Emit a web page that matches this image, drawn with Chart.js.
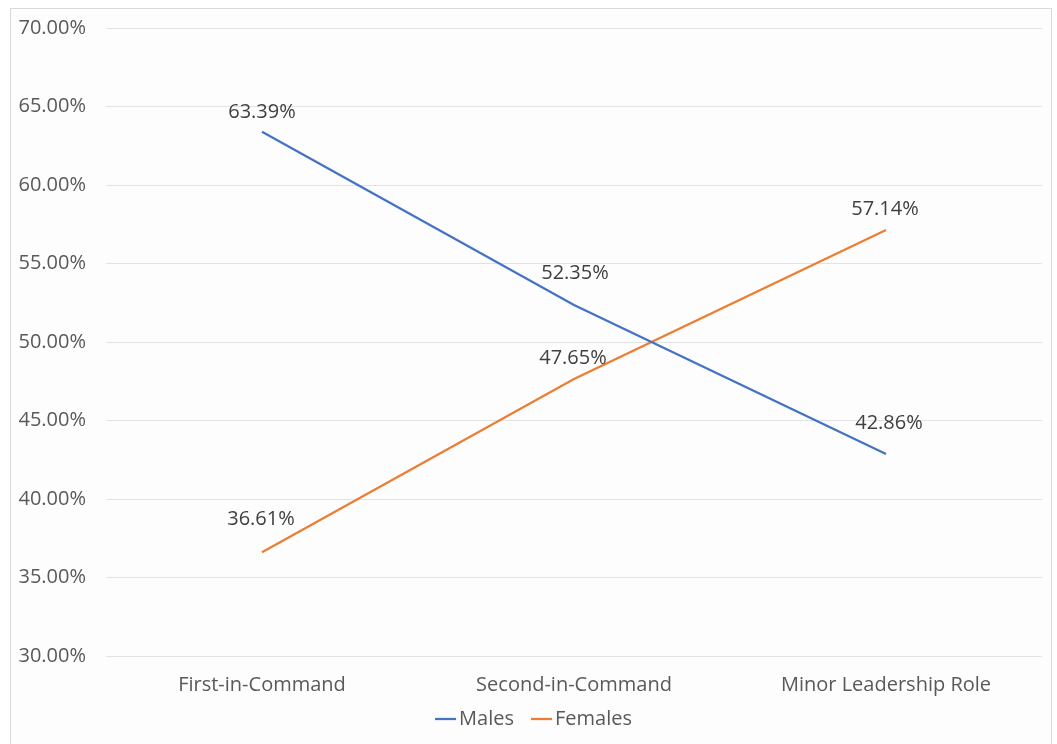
<!DOCTYPE html>
<html>
<head>
<meta charset="utf-8">
<script src="https://cdn.jsdelivr.net/npm/chart.js@4/dist/chart.umd.min.js"></script>
<style>
  html, body { margin: 0; padding: 0; background: #ffffff; }
  #frame { position: absolute; left: 10px; top: 8px; width: 1042px; height: 740px; border: 1px solid #d9d9d9; background: #fdfdfd; box-sizing: border-box; }
  #wrap { position: absolute; left: 0; top: 0; width: 1057px; height: 744px; }
</style>
</head>
<body>
<div id="frame"></div>
<div id="wrap"><canvas id="c" width="1057" height="744"></canvas></div>
<script>
const categories = ["First-in-Command", "Second-in-Command", "Minor Leadership Role"];
const malesValues = [63.39, 52.35, 42.86];
const femalesValues = [36.61, 47.65, 57.14];
const yTickMin = 30;
const yTickMax = 70;
const yTickStep = 5;

// label placement offsets (style only)
const labelOffsets = {
  0: [{dx: 0, dy: -19}, {dx: 1, dy: -32}, {dx: 3, dy: -31}],
  1: [{dx: -1, dy: -33}, {dx: -1, dy: -21}, {dx: -1, dy: -21}]
};

const FONT = "'Open Sans', 'DejaVu Sans', sans-serif";
const PAD_LEFT = 10;

const dataLabelPlugin = {
  id: 'dataLabels',
  afterDatasetsDraw(chart) {
    const ctx = chart.ctx;
    ctx.save();
    ctx.font = "20px " + FONT;
    ctx.fillStyle = '#404040';
    ctx.textAlign = 'center';
    ctx.textBaseline = 'middle';
    chart.data.datasets.forEach((ds, di) => {
      const meta = chart.getDatasetMeta(di);
      meta.data.forEach((pt, i) => {
        const off = labelOffsets[di][i];
        ctx.fillText(ds.data[i].toFixed(2) + '%', pt.x + off.dx, pt.y + off.dy);
      });
    });
    ctx.restore();
  }
};

// Excel-style legend: short line swatch hugging the text
const legendPlugin = {
  id: 'excelLegend',
  afterDraw(chart) {
    const ctx = chart.ctx;
    const lineW = 21, gapLT = 3, gapItems = 17, y = 719;
    ctx.save();
    ctx.font = "20px " + FONT;
    ctx.textBaseline = 'middle';
    ctx.textAlign = 'left';
    const items = chart.data.datasets.map(ds => ({ ds, w: ctx.measureText(ds.label).width }));
    let total = 0;
    items.forEach((it, i) => { total += lineW + gapLT + it.w + (i ? gapItems : 0); });
    let x = chart.width / 2 + 5 - total / 2;
    items.forEach(it => {
      ctx.strokeStyle = it.ds.borderColor;
      ctx.lineWidth = it.ds.borderWidth;
      ctx.beginPath();
      ctx.moveTo(x, y);
      ctx.lineTo(x + lineW, y);
      ctx.stroke();
      x += lineW + gapLT;
      ctx.fillStyle = '#595959';
      ctx.fillText(it.ds.label, x, y);
      x += it.w + gapItems;
    });
    ctx.restore();
  }
};

new Chart(document.getElementById('c'), {
  type: 'line',
  data: {
    labels: categories,
    datasets: [
      { label: 'Males', data: malesValues, borderColor: '#4472C4', backgroundColor: '#4472C4', borderWidth: 2.25, pointRadius: 0, tension: 0 },
      { label: 'Females', data: femalesValues, borderColor: '#ED7D31', backgroundColor: '#ED7D31', borderWidth: 2.25, pointRadius: 0, tension: 0 }
    ]
  },
  options: {
    responsive: false,
    animation: false,
    layout: { padding: { left: PAD_LEFT, right: 15, top: 28, bottom: 44 } },
    plugins: {
      tooltip: { enabled: false },
      legend: { display: false }
    },
    scales: {
      x: {
        offset: true,
        grid: { display: false, drawTicks: false },
        border: { display: false },
        ticks: { color: '#595959', font: { family: FONT, size: 20 }, padding: 17, maxRotation: 0 },
        afterFit(scale) { scale.height = 44; scale.paddingLeft = 0; scale.paddingRight = 0; }
      },
      y: {
        min: yTickMin,
        max: yTickMax,
        grid: { color: '#e3e3e3', lineWidth: 1, drawTicks: false },
        border: { display: false },
        ticks: {
          stepSize: yTickStep,
          color: '#595959',
          font: { family: FONT, size: 20 },
          padding: 20,
          callback: v => v.toFixed(2) + '%'
        },
        afterFit(scale) { scale.width = 106 - PAD_LEFT; scale.paddingTop = 0; scale.paddingBottom = 0; }
      }
    }
  },
  plugins: [dataLabelPlugin, legendPlugin]
});
</script>
</body>
</html>
